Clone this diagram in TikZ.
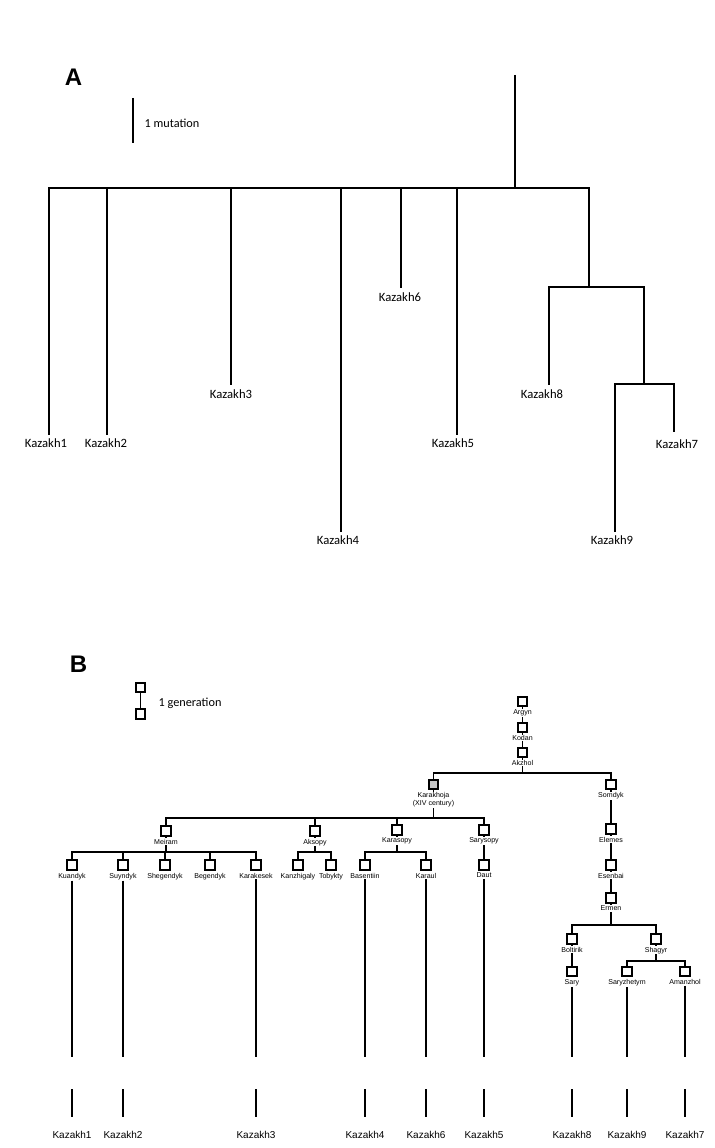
\documentclass[tikz,border=0pt]{standalone}
\usepackage{fontspec}
\setmainfont{Carlito}
\newfontfamily\arialfont{Liberation Sans}
\usetikzlibrary{positioning, backgrounds}

\begin{document}
\begin{tikzpicture}[
    x=0.75pt, y=-0.75pt,
    panel/.style={font=\arialfont\bfseries\fontsize{18}{20}\selectfont, inner sep=0pt},
    note/.style={font=\fontsize{9.2}{11}\selectfont, anchor=west, inner sep=1pt},
    branch/.style={line width=1.5pt},
    leafA/.style={font=\fontsize{9.5}{11}\selectfont, inner sep=1pt},
    person/.style={draw, fill=white, line width=1.3pt, minimum size=7pt, inner sep=0pt},
    who/.style={font=\arialfont\fontsize{5.3}{6.2}\selectfont, fill=white, inner sep=0.6pt, align=center},
    edge/.style={line width=1.3pt},
    kzb/.style={font=\arialfont\fontsize{7.5}{9}\selectfont, inner sep=1pt},
]
\useasboundingbox (0,0) rectangle (714,1148);

% ---------------- Panel A: mutation tree ----------------
\node[panel] (labA) at (73.5,77.5) {A};

% scale bar
\coordinate (mutT) at (133,98);
\coordinate (mutB) at (133,143);
\draw[branch] (mutT) -- (mutB);
\node[note] (mut) at (143,123) {1 mutation};

% inner points of the tree
\coordinate (rootA)  at (515,75);
\coordinate (hubA)   at (515,188);
\coordinate (cladeA) at (589,287);
\coordinate (subA)   at (644,384);

\draw[branch] (rootA) -- (hubA);

% star-like leaves off the hub
\foreach \i/\x/\y/\lx/\ly in {1/49/435/46/443, 2/107/435/106/443, 3/231/385/231/394,
                              4/341/532/338/540, 6/401/288/400/297, 5/457/435/453/443} {
    \coordinate (tA\i) at (\x,\y);
    \draw[branch] (hubA) -| (tA\i);
    \node[leafA] (kA\i) at (\lx,\ly) {Kazakh\i};
}

% right-hand clade
\draw[branch] (hubA) -| (cladeA);
\coordinate (tA8) at (549,385);
\coordinate (tA9) at (615,532);
\coordinate (tA7) at (674,432);
\draw[branch] (cladeA) -| (tA8);
\draw[branch] (cladeA) -| (subA);
\draw[branch] (subA) -| (tA9);
\draw[branch] (subA) -| (tA7);
\node[leafA] (kA8) at (542,394) {Kazakh8};
\node[leafA] (kA9) at (612,540) {Kazakh9};
\node[leafA] (kA7) at (677,444) {Kazakh7};

% ---------------- Panel B: genealogy ----------------
\node[panel] (labB) at (78.5,664.5) {B};

% legend
\node[person] (gen1) at (140.5,687.5) {};
\node[person] (gen2) at (140.5,714) {};
\node[note] (gen) at (157,703) {1 generation};

% people
\foreach \n/\x/\y/\t in {argyn/522.5/701.5/Argyn, kodan/522.5/727.5/Kodan,
        akzhol/522.5/752.5/Akzhol, somdyk/611/784.5/Somdyk,
        meiram/166/831/Meiram, aksopy/315/831/Aksopy,
        karasopy/397/830/Karasopy, sarysopy/484/830/Sarysopy,
        kuandyk/72/865/Kuandyk, suyndyk/123/865/Suyndyk,
        shegendyk/165/865/Shegendyk, begendyk/210/865/Begendyk,
        karakesek/256/865/Karakesek, kanzhigaly/298/865/Kanzhigaly,
        tobykty/331/865/Tobykty, basentiin/365/865/Basentiin,
        karaul/426/865/Karaul, daut/484/865/Daut,
        elemes/611/829/Elemes, esenbai/611/865/Esenbai,
        ermen/611/898/Ermen, boltirik/572/939/Boltirik,
        shagyr/656/939/Shagyr, sary/572/971.5/Sary,
        saryzhetym/627/971.5/Saryzhetym, amanzhol/685/971.5/Amanzhol} {
    \node[person] (\n) at (\x,\y) {};
    \node[who, below=1pt of \n] (\n-l) {\t};
}
\node[person, fill=gray!45] (karakhoja) at (433.5,784.5) {};
\node[who, below=1pt of karakhoja] (karakhoja-l) {Karakhoja\\(XIV century)};

% lines of descent
\begin{scope}[on background layer]
    \draw[edge] (gen1) -- (gen2);
    \draw[edge] (argyn) -- (kodan) -- (akzhol);
    \draw[edge] (akzhol.south) -- ++(0,15) -| (karakhoja.north);
    \draw[edge] (akzhol.south) -- ++(0,15) -| (somdyk.north);
    \foreach \c in {meiram, aksopy, karasopy, sarysopy}
        \draw[edge] (karakhoja.south) -- ++(0,28) -| (\c.north);
    \foreach \c in {kuandyk, suyndyk, shegendyk, begendyk, karakesek}
        \draw[edge] (meiram.south) -- ++(0,15.5) -| (\c.north);
    \foreach \c in {kanzhigaly, tobykty}
        \draw[edge] (aksopy.south) -- ++(0,15.5) -| (\c.north);
    \foreach \c in {basentiin, karaul}
        \draw[edge] (karasopy.south) -- ++(0,16.5) -| (\c.north);
    \draw[edge] (sarysopy) -- (daut);
    \draw[edge] (somdyk) -- (elemes) -- (esenbai) -- (ermen);
    \foreach \c in {boltirik, shagyr}
        \draw[edge] (ermen.south) -- ++(0,21.5) -| (\c.north);
    \draw[edge] (boltirik) -- (sary);
    \foreach \c in {saryzhetym, amanzhol}
        \draw[edge] (shagyr.south) -- ++(0,16.5) -| (\c.north);
\end{scope}

% carriers of today
\foreach \p/\k in {kuandyk/1, suyndyk/2, karakesek/3, basentiin/4, karaul/6,
                   daut/5, sary/8, saryzhetym/9, amanzhol/7} {
    \node[kzb] (kB\k) at (\p |- 0,1135) {Kazakh\k};
    \draw[edge] (\p-l.south) -- (\p-l.south |- 0,1057);
    \draw[edge] (kB\k.north |- 0,1089) -- (kB\k.north |- 0,1117);
}
\end{tikzpicture}
\end{document}
